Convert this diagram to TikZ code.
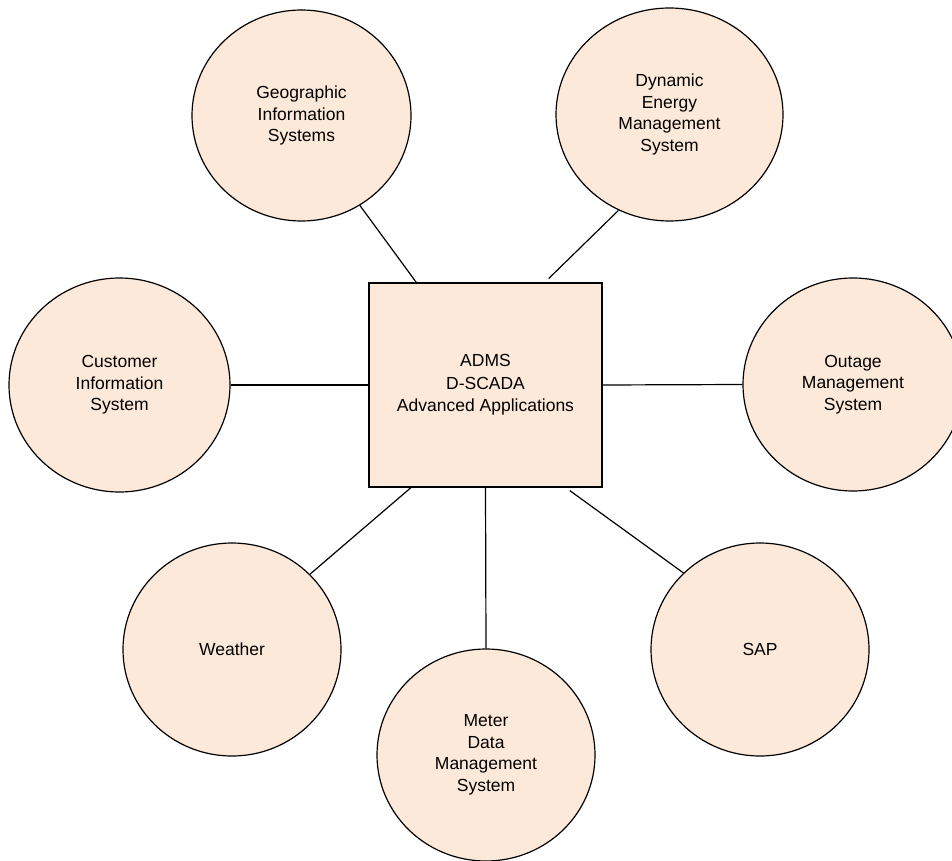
\documentclass[tikz,border=0pt]{standalone}
\usepackage{fontspec}
\setmainfont{Liberation Sans}
\usetikzlibrary{shapes.geometric}
\definecolor{peach}{HTML}{FDE9D9}
\tikzset{
  sysnode/.style={ellipse, draw=black, line width=1.2pt, fill=peach, inner sep=0pt,
    align=center, font=\fontsize{17.5}{21.5}\selectfont},
  hubbox/.style={rectangle, draw=black, line width=1.2pt, fill=peach, inner sep=0pt,
    minimum width=233pt, minimum height=204pt, align=center,
    font=\fontsize{17.5}{22.5}\selectfont},
  link/.style={draw=black, line width=1.2pt}
}
\begin{document}
\begin{tikzpicture}[x=1pt, y=-1pt]
\useasboundingbox (0,0) rectangle (952,861);
\clip (0,0) rectangle (952,861);
\node[hubbox] (box) at (485.5,385) {ADMS\\D-SCADA\\Advanced Applications};
\node[sysnode, minimum width=219pt, minimum height=211pt] (geo) at (301.5,115.5) {Geographic\\Information\\Systems};
\node[sysnode, minimum width=227pt, minimum height=213pt] (dyn) at (669.5,114.5) {Dynamic\\Energy\\Management\\System};
\node[sysnode, minimum width=221pt, minimum height=214pt] (cis) at (119.5,385) {Customer\\Information\\System};
\node[sysnode, minimum width=220pt, minimum height=213pt] (oms) at (853,384.5) {Outage\\Management\\System};
\node[sysnode, minimum width=218pt, minimum height=213pt] (wea) at (232,649.5) {Weather};
\node[sysnode, minimum width=218pt, minimum height=213pt] (sap) at (760,649.5) {SAP};
\node[sysnode, minimum width=218pt, minimum height=212pt] (mdm) at (486,755) {Meter\\Data\\Management\\System};
\draw[link] (geo.-57) -- (box.124.8);
\draw[link, shorten >=5.5pt] (dyn.242.4) -- (box.60.1);
\draw[link] (cis.east) -- (box.west);
\draw[link] (box.east) -- (oms.west);
\draw[link] (wea.44.4) -- (box.-126.5);
\draw[link] (box.south) -- (mdm.north);
\draw[link, shorten <=5pt] (box.-52.7) -- (sap.135.2);
\end{tikzpicture}
\end{document}
